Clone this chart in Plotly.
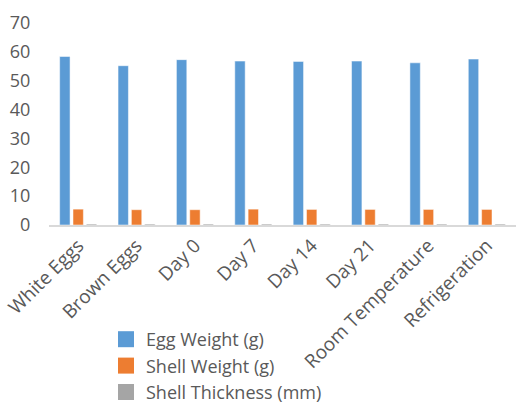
import plotly.graph_objects as go

categories = ["White Eggs", "Brown Eggs", "Day 0", "Day 7", "Day 14", "Day 21",
              "Room Temperature", "Refrigeration"]
egg_weight = [58.4, 55.2, 57.3, 56.8, 56.7, 56.8, 56.2, 57.5]
shell_weight = [5.5, 5.3, 5.3, 5.5, 5.4, 5.4, 5.4, 5.4]
shell_thickness = [0.35, 0.34, 0.35, 0.35, 0.34, 0.35, 0.34, 0.35]
y_ticks = [0, 10, 20, 30, 40, 50, 60, 70]

fig = go.Figure()
series = [("Egg Weight (g)", egg_weight, "#5B9BD5"),
          ("Shell Weight (g)", shell_weight, "#ED7D31"),
          ("Shell Thickness (mm)", shell_thickness, "#A5A5A5")]
for name, vals, col in series:
    fig.add_trace(go.Bar(x=categories, y=vals, name=name, showlegend=False,
                         marker=dict(color=col, line=dict(color="rgba(255,255,255,0.5)", width=1))))
for name, vals, col in series:
    fig.add_trace(go.Scatter(x=[None], y=[None], name=name, mode="markers",
                             marker=dict(symbol="square", size=17, color=col)))

fig.update_layout(
    width=516, height=406,
    margin=dict(l=49, r=0, t=23, b=181, autoexpand=False),
    paper_bgcolor="white", plot_bgcolor="white",
    barmode="group", bargap=0.315, bargroupgap=0.22,
    font=dict(family="Open Sans", size=18, color="#595959"),
    showlegend=True,
    legend=dict(orientation="v", xref="container", x=106 / 516, xanchor="left",
                yref="container", y=1 - 321 / 406, yanchor="top",
                bgcolor="rgba(0,0,0,0)",
                font=dict(size=18, color="#595959"), tracegroupgap=0),
    xaxis=dict(tickangle=-45, showline=True, linecolor="#D9D9D9", linewidth=2,
               showgrid=False, ticks="", tickfont=dict(size=19), automargin=False),
    yaxis=dict(range=[0, 70], tickvals=y_ticks, showgrid=False, zeroline=False,
               showline=False, ticks="outside", ticklen=14, tickcolor="rgba(0,0,0,0)",
               tickfont=dict(size=18), automargin=False),
)
fig.write_html("out.html", config={"displayModeBar": False},
               post_script="document.body.style.margin='0px';")
